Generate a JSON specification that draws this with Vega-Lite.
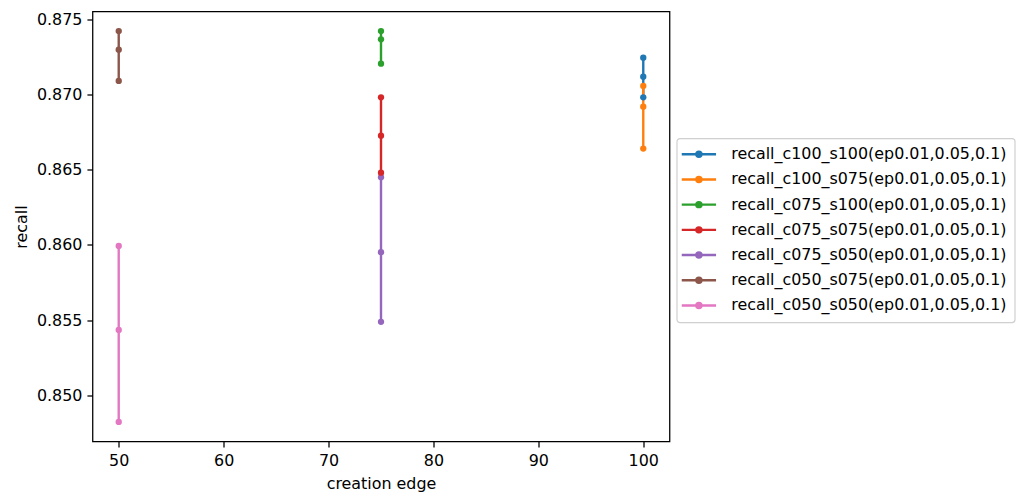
{
  "$schema": "https://vega.github.io/schema/vega-lite/v6.json",
  "width": 577,
  "height": 430,
  "autosize": "none",
  "padding": {"left": 92.5, "top": 11.5, "right": 354.5, "bottom": 61.5},
  "background": "white",
  "config": {
    "font": "DejaVu Sans",
    "view": {"stroke": "black", "strokeWidth": 1.27},
    "axis": {
      "grid": false,
      "domain": false,
      "ticks": true,
      "tickColor": "black",
      "tickWidth": 1.27,
      "tickSize": 5.57,
      "labelColor": "black",
      "labelFont": "DejaVu Sans",
      "labelFontSize": 15.9,
      "labelPadding": 5,
      "titleColor": "black",
      "titleFont": "DejaVu Sans",
      "titleFontSize": 15.9,
      "titleFontWeight": "normal"
    }
  },
  "data": {
    "values": [
      {"series": "recall_c100_s100(ep0.01,0.05,0.1)", "edge": 100, "ep": 0.01, "recall": 0.87245},
      {"series": "recall_c100_s100(ep0.01,0.05,0.1)", "edge": 100, "ep": 0.05, "recall": 0.87118},
      {"series": "recall_c100_s100(ep0.01,0.05,0.1)", "edge": 100, "ep": 0.1, "recall": 0.86981},
      {"series": "recall_c100_s075(ep0.01,0.05,0.1)", "edge": 100, "ep": 0.01, "recall": 0.87057},
      {"series": "recall_c100_s075(ep0.01,0.05,0.1)", "edge": 100, "ep": 0.05, "recall": 0.86919},
      {"series": "recall_c100_s075(ep0.01,0.05,0.1)", "edge": 100, "ep": 0.1, "recall": 0.86640},
      {"series": "recall_c075_s100(ep0.01,0.05,0.1)", "edge": 75, "ep": 0.01, "recall": 0.87422},
      {"series": "recall_c075_s100(ep0.01,0.05,0.1)", "edge": 75, "ep": 0.05, "recall": 0.87367},
      {"series": "recall_c075_s100(ep0.01,0.05,0.1)", "edge": 75, "ep": 0.1, "recall": 0.87205},
      {"series": "recall_c075_s075(ep0.01,0.05,0.1)", "edge": 75, "ep": 0.01, "recall": 0.86981},
      {"series": "recall_c075_s075(ep0.01,0.05,0.1)", "edge": 75, "ep": 0.05, "recall": 0.86726},
      {"series": "recall_c075_s075(ep0.01,0.05,0.1)", "edge": 75, "ep": 0.1, "recall": 0.86480},
      {"series": "recall_c075_s050(ep0.01,0.05,0.1)", "edge": 75, "ep": 0.01, "recall": 0.86450},
      {"series": "recall_c075_s050(ep0.01,0.05,0.1)", "edge": 75, "ep": 0.05, "recall": 0.85951},
      {"series": "recall_c075_s050(ep0.01,0.05,0.1)", "edge": 75, "ep": 0.1, "recall": 0.85488},
      {"series": "recall_c050_s075(ep0.01,0.05,0.1)", "edge": 50, "ep": 0.01, "recall": 0.87422},
      {"series": "recall_c050_s075(ep0.01,0.05,0.1)", "edge": 50, "ep": 0.05, "recall": 0.87298},
      {"series": "recall_c050_s075(ep0.01,0.05,0.1)", "edge": 50, "ep": 0.1, "recall": 0.87090},
      {"series": "recall_c050_s050(ep0.01,0.05,0.1)", "edge": 50, "ep": 0.01, "recall": 0.85993},
      {"series": "recall_c050_s050(ep0.01,0.05,0.1)", "edge": 50, "ep": 0.05, "recall": 0.85434},
      {"series": "recall_c050_s050(ep0.01,0.05,0.1)", "edge": 50, "ep": 0.1, "recall": 0.84822}
    ]
  },
  "mark": {"type": "line", "strokeWidth": 2.4, "point": {"filled": true, "size": 40, "opacity": 1}},
  "encoding": {
    "x": {
      "field": "edge",
      "type": "quantitative",
      "scale": {"domain": [47.5, 102.5], "nice": false, "zero": false},
      "axis": {"title": "creation edge", "values": [50, 60, 70, 80, 90, 100], "titlePadding": 8}
    },
    "y": {
      "field": "recall",
      "type": "quantitative",
      "scale": {"domain": [0.84692, 0.87552], "nice": false, "zero": false},
      "axis": {"title": "recall", "values": [0.85, 0.855, 0.86, 0.865, 0.87, 0.875], "format": ".3f", "titlePadding": 7}
    },
    "color": {
      "field": "series",
      "type": "nominal",
      "scale": {
        "domain": [
          "recall_c100_s100(ep0.01,0.05,0.1)",
          "recall_c100_s075(ep0.01,0.05,0.1)",
          "recall_c075_s100(ep0.01,0.05,0.1)",
          "recall_c075_s075(ep0.01,0.05,0.1)",
          "recall_c075_s050(ep0.01,0.05,0.1)",
          "recall_c050_s075(ep0.01,0.05,0.1)",
          "recall_c050_s050(ep0.01,0.05,0.1)"
        ],
        "range": ["#1f77b4", "#ff7f0e", "#2ca02c", "#d62728", "#9467bd", "#8c564b", "#e377c2"]
      },
      "legend": {
        "title": null,
        "orient": "none",
        "legendX": 584.2,
        "legendY": 126.8,
        "padding": 8,
        "strokeColor": "#d0d0d0",
        "fillColor": "white",
        "cornerRadius": 3,
        "labelFont": "DejaVu Sans",
        "labelFontSize": 15.9,
        "labelColor": "black",
        "labelLimit": 0,
        "rowPadding": 8.2,
        "symbolType": "M-2.86,0H2.86M-0.42,0A0.42,0.42 0 1,0 0.42,0A0.42,0.42 0 1,0 -0.42,0",
        "symbolSize": 144,
        "symbolStrokeWidth": 2.4,
        "symbolOffset": 6.25,
        "labelOffset": 24.4,
        "encode": {
          "legend": {"update": {"strokeWidth": {"value": 1.2}}},
          "symbols": {
            "update": {
              "fill": {"scale": "color", "field": "value"},
              "stroke": {"scale": "color", "field": "value"},
              "strokeWidth": {"value": 2.4},
              "opacity": {"value": 1}
            }
          }
        }
      }
    },
    "order": {"field": "ep", "type": "quantitative"}
  }
}
